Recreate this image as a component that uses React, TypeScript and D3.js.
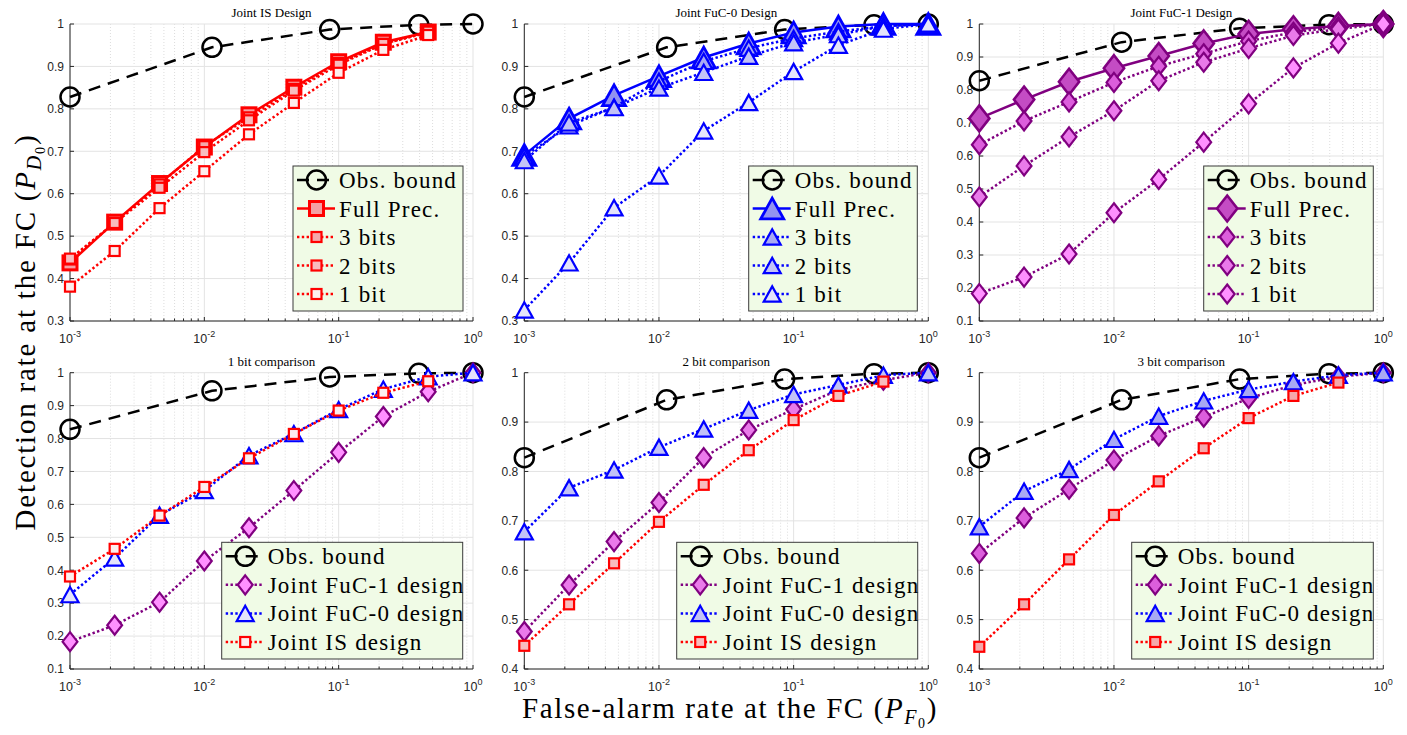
import React from 'react'
import * as d3 from 'd3'

// false-alarm grid shared by the designs (logspace(-3, 0, 10))
const FA = [1e-3, 2.15e-3, 4.64e-3, 1e-2, 2.15e-2, 4.64e-2, 1e-1, 2.15e-1, 4.64e-1, 1]
const FA_IS = FA.slice(0, 9) // IS design stops before 1

// observation bound
const OBS_FA = [1e-3, 0.0114, 0.0857, 0.395, 1]
const OBS_PD = [0.828, 0.945, 0.987, 0.998, 1.0]

// Joint IS design
const IS_FULL = [0.437, 0.533, 0.624, 0.710, 0.786, 0.851, 0.911, 0.957, 0.981]
const IS_3 = [0.445, 0.531, 0.622, 0.712, 0.780, 0.847, 0.908, 0.953, 0.980]
const IS_2 = [0.447, 0.531, 0.614, 0.698, 0.773, 0.843, 0.904, 0.953, 0.982]
const IS_1 = [0.381, 0.465, 0.566, 0.653, 0.740, 0.814, 0.885, 0.939, 0.974]

// Joint FuC-0 design
const F0_FULL = [0.691, 0.777, 0.832, 0.877, 0.921, 0.954, 0.980, 0.994, 1.0, 1.0]
const F0_3 = [0.688, 0.760, 0.804, 0.865, 0.912, 0.943, 0.966, 0.982, 0.995, 1.0]
const F0_2 = [0.678, 0.767, 0.803, 0.849, 0.886, 0.924, 0.956, 0.975, 0.995, 1.0]
const F0_1 = [0.326, 0.437, 0.567, 0.642, 0.748, 0.815, 0.888, 0.950, 0.988, 1.0]

// Joint FuC-1 design
const F1_FULL = [0.714, 0.771, 0.825, 0.866, 0.903, 0.941, 0.970, 0.984, 0.994, 1.0]
const F1_3 = [0.634, 0.706, 0.764, 0.823, 0.872, 0.910, 0.948, 0.975, 0.992, 1.0]
const F1_2 = [0.476, 0.570, 0.658, 0.737, 0.828, 0.884, 0.926, 0.965, 0.985, 1.0]
const F1_1 = [0.183, 0.233, 0.303, 0.428, 0.529, 0.642, 0.758, 0.867, 0.942, 1.0]

const TOP_LABELS = ['Obs. bound', 'Full Prec.', '3 bits', '2 bits', '1 bit']
const BOTTOM_LABELS = ['Obs. bound', 'Joint FuC-1 design', 'Joint FuC-0 design', 'Joint IS design']
const X_TICKS = [-3, -2, -1, 0]

const W = 1407
const H = 735
const COLS = [[70, 473], [524.3, 928.3], [979.3, 1383.3]]
const ROWS = [[24, 321], [372.7, 669]]

const SERIF = "'Liberation Serif', 'DejaVu Serif', serif"
const SANS = "'Liberation Sans', Arial, sans-serif"

type Style = {
  shape: string
  size: number
  stroke: string
  fill: string
  dash?: string
  lw: number
  mlw: number
}

const DOT = '2.4,2.4'
const obsStyle: Style = { shape: 'circle', size: 19, stroke: '#000', fill: 'none', dash: '12,8', lw: 2.5, mlw: 2.5 }

const sq = (fill: string, full = false): Style => ({
  shape: 'square', size: full ? 14 : 10, stroke: '#ff0000', fill, dash: full ? undefined : DOT, lw: 2.5, mlw: full ? 3 : 2.2,
})
const tri = (fill: string, full = false): Style => ({
  shape: 'triangle', size: full ? 23 : 17, stroke: '#0000ff', fill, dash: full ? undefined : DOT, lw: 2.5, mlw: full ? 2.8 : 2.2,
})
const dia = (fill: string, full = false): Style => ({
  shape: 'diamond', size: full ? 26 : 19, stroke: '#800080', fill, dash: full ? undefined : DOT, lw: 2.5, mlw: full ? 2.6 : 2.2,
})

const IS_FILL = ['#f4a0a4', '#f5a8ab', '#f8bcbe', '#fdeeee']
const F0_FILL = ['#9393f0', '#a9a9f3', '#c2c2f7', '#e4e4fb']
const F1_FILL = ['#c44cc4', '#dc5edc', '#ea7aea', '#ff90ff']

type Series = { x: number[]; y: number[]; style: Style }

const obs: Series = { x: OBS_FA, y: OBS_PD, style: obsStyle }

const panels = [
  {
    title: 'Joint IS Design', col: 0, row: 0, ymin: 0.3, labels: TOP_LABELS, legend: [293, 166, 463, 311],
    series: [obs,
      { x: FA_IS, y: IS_FULL, style: sq(IS_FILL[0], true) },
      { x: FA_IS, y: IS_3, style: sq(IS_FILL[1]) },
      { x: FA_IS, y: IS_2, style: sq(IS_FILL[2]) },
      { x: FA_IS, y: IS_1, style: sq(IS_FILL[3]) }],
  },
  {
    title: 'Joint FuC-0 Design', col: 1, row: 0, ymin: 0.3, labels: TOP_LABELS, legend: [748.7, 166, 917.3, 311],
    series: [obs,
      { x: FA, y: F0_FULL, style: tri(F0_FILL[0], true) },
      { x: FA, y: F0_3, style: tri(F0_FILL[1]) },
      { x: FA, y: F0_2, style: tri(F0_FILL[2]) },
      { x: FA, y: F0_1, style: tri(F0_FILL[3]) }],
  },
  {
    title: 'Joint FuC-1 Design', col: 2, row: 0, ymin: 0.1, labels: TOP_LABELS, legend: [1203.7, 166, 1373.3, 311],
    series: [obs,
      { x: FA, y: F1_FULL, style: dia(F1_FILL[0], true) },
      { x: FA, y: F1_3, style: dia(F1_FILL[1]) },
      { x: FA, y: F1_2, style: dia(F1_FILL[2]) },
      { x: FA, y: F1_1, style: dia(F1_FILL[3]) }],
  },
  {
    title: '1 bit comparison', col: 0, row: 1, ymin: 0.1, labels: BOTTOM_LABELS, legend: [221.7, 542.3, 462.7, 659],
    series: [obs,
      { x: FA, y: F1_1, style: dia(F1_FILL[3]) },
      { x: FA, y: F0_1, style: tri(F0_FILL[3]) },
      { x: FA_IS, y: IS_1, style: sq(IS_FILL[3]) }],
  },
  {
    title: '2 bit comparison', col: 1, row: 1, ymin: 0.4, labels: BOTTOM_LABELS, legend: [676.7, 542.3, 917.7, 659],
    series: [obs,
      { x: FA, y: F1_2, style: dia(F1_FILL[2]) },
      { x: FA, y: F0_2, style: tri(F0_FILL[2]) },
      { x: FA_IS, y: IS_2, style: sq(IS_FILL[2]) }],
  },
  {
    title: '3 bit comparison', col: 2, row: 1, ymin: 0.4, labels: BOTTOM_LABELS, legend: [1131.7, 542.3, 1373.3, 659],
    series: [obs,
      { x: FA, y: F1_3, style: dia(F1_FILL[1]) },
      { x: FA, y: F0_3, style: tri(F0_FILL[1]) },
      { x: FA_IS, y: IS_3, style: sq(IS_FILL[1]) }],
  },
]

const Marker = ({ s, x, y }: { s: Style; x: number; y: number }) => {
  const common = { fill: s.fill, stroke: s.stroke, strokeWidth: s.mlw, strokeLinejoin: 'miter' as const }
  const h = s.size / 2
  if (s.shape === 'circle') return <circle cx={x} cy={y} r={h} {...common} />
  if (s.shape === 'square') return <rect x={x - h} y={y - h} width={s.size} height={s.size} {...common} />
  if (s.shape === 'triangle') {
    const th = s.size * 0.45
    return <polygon points={`${x},${y - th} ${x + h},${y + th} ${x - h},${y + th}`} {...common} />
  }
  const w = s.size * 0.39
  return <polygon points={`${x},${y - h} ${x + w},${y} ${x},${y + h} ${x - w},${y}`} {...common} />
}

const Panel = ({ p }: { p: (typeof panels)[number] }) => {
  const [x0, x1] = COLS[p.col]
  const [y0, y1] = ROWS[p.row]
  const x = d3.scaleLog().domain([1e-3, 1]).range([x0, x1])
  const y = d3.scaleLinear().domain([p.ymin, 1]).range([y1, y0])
  const yTicks = d3.range(Math.round(p.ymin * 10), 11).map((v) => v / 10)
  const minor: number[] = []
  for (let e = -3; e < 0; e++) for (let m = 2; m < 10; m++) minor.push(m * 10 ** e)

  const [lx0, ly0, lx1, ly1] = p.legend
  const n = p.labels.length
  const rowGap = (ly1 - 17 - (ly0 + 14)) / (n - 1)

  return (
    <g>
      {/* grid */}
      {minor.map((m) => (
        <line key={'mg' + m} x1={x(m)} x2={x(m)} y1={y0} y2={y1} stroke="#d4d4d4" strokeWidth={0.8} strokeDasharray="1,2" />
      ))}
      {X_TICKS.map((e) => (
        <line key={'xg' + e} x1={x(10 ** e)} x2={x(10 ** e)} y1={y0} y2={y1} stroke="#e3e3e3" strokeWidth={1} />
      ))}
      {yTicks.map((t) => (
        <line key={'yg' + t} x1={x0} x2={x1} y1={y(t)} y2={y(t)} stroke="#e3e3e3" strokeWidth={1} />
      ))}

      {/* axes */}
      <line x1={x0} x2={x0} y1={y0} y2={y1} stroke="#262626" strokeWidth={1} />
      <line x1={x0} x2={x1} y1={y1} y2={y1} stroke="#262626" strokeWidth={1} />
      {yTicks.map((t) => (
        <g key={'yt' + t}>
          <line x1={x0} x2={x0 + 4} y1={y(t)} y2={y(t)} stroke="#262626" />
          <text x={x0 - 6} y={y(t) + 4.3} textAnchor="end" style={{ fontFamily: SANS }} fontSize={12} fill="#262626">
            {d3.format('~g')(t)}
          </text>
        </g>
      ))}
      {minor.map((m) => (
        <line key={'mt' + m} x1={x(m)} x2={x(m)} y1={y1} y2={y1 - 2.5} stroke="#262626" />
      ))}
      {X_TICKS.map((e) => (
        <g key={'xt' + e}>
          <line x1={x(10 ** e)} x2={x(10 ** e)} y1={y1} y2={y1 - 4} stroke="#262626" />
          <text x={x(10 ** e)} y={y1 + 22} textAnchor="middle" style={{ fontFamily: SANS }} fontSize={12.5} fill="#262626">
            10<tspan fontSize={9} dy={-6}>{e}</tspan>
          </text>
        </g>
      ))}

      <text x={(x0 + x1) / 2} y={y0 - 7} textAnchor="middle" style={{ fontFamily: SERIF }} fontSize={13} fill="#000">
        {p.title}
      </text>

      {/* series */}
      {p.series.map((s, i) => {
        const pts = s.x.map((v, k) => [x(v), y(s.y[k])] as [number, number])
        return (
          <g key={'s' + i}>
            <path
              d={d3.line()(pts) ?? ''}
              fill="none"
              stroke={s.style.stroke}
              strokeWidth={s.style.lw}
              strokeDasharray={s.style.dash}
            />
            {pts.map(([px, py], k) => (
              <Marker key={k} s={s.style} x={px} y={py} />
            ))}
          </g>
        )
      })}

      {/* legend */}
      <rect x={lx0} y={ly0} width={lx1 - lx0} height={ly1 - ly0} fill="#f0fbe6" stroke="#3a3a3a" strokeWidth={1} />
      {p.series.map((s, i) => {
        const cy = ly0 + 14 + i * rowGap
        return (
          <g key={'l' + i}>
            <line x1={lx0 + 4} x2={lx0 + 42} y1={cy} y2={cy} stroke={s.style.stroke} strokeWidth={s.style.lw} strokeDasharray={s.style.dash} />
            <Marker s={s.style} x={lx0 + 23.5} y={cy} />
            <text x={lx0 + 46} y={cy + 8} style={{ fontFamily: SERIF }} fontSize={23} letterSpacing={1.2} fill="#000">
              {p.labels[i]}
            </text>
          </g>
        )
      })}
    </g>
  )
}

export default function App() {
  return (
    <svg width={W} height={H} style={{ position: 'absolute', left: 0, top: 0, background: '#fff' }}>
      <rect width={W} height={H} fill="#fff" />
      {panels.map((p, i) => (
        <Panel key={i} p={p} />
      ))}
      <text transform="translate(35,332) rotate(-90)" textAnchor="middle" style={{ fontFamily: SERIF }} fontSize={29} letterSpacing={1.8} fill="#000">
        Detection rate at the FC (<tspan fontStyle="italic">P</tspan>
        <tspan fontSize={20} dy={6} fontStyle="italic">D</tspan>
        <tspan fontSize={14} dy={4}>0</tspan>
        <tspan dy={-10}>)</tspan>
      </text>
      <text x={730} y={718} textAnchor="middle" style={{ fontFamily: SERIF }} fontSize={29} letterSpacing={1.6} fill="#000">
        False-alarm rate at the FC (<tspan fontStyle="italic">P</tspan>
        <tspan fontSize={20} dy={6} fontStyle="italic">F</tspan>
        <tspan fontSize={14} dy={4}>0</tspan>
        <tspan dy={-10}>)</tspan>
      </text>
    </svg>
  )
}
